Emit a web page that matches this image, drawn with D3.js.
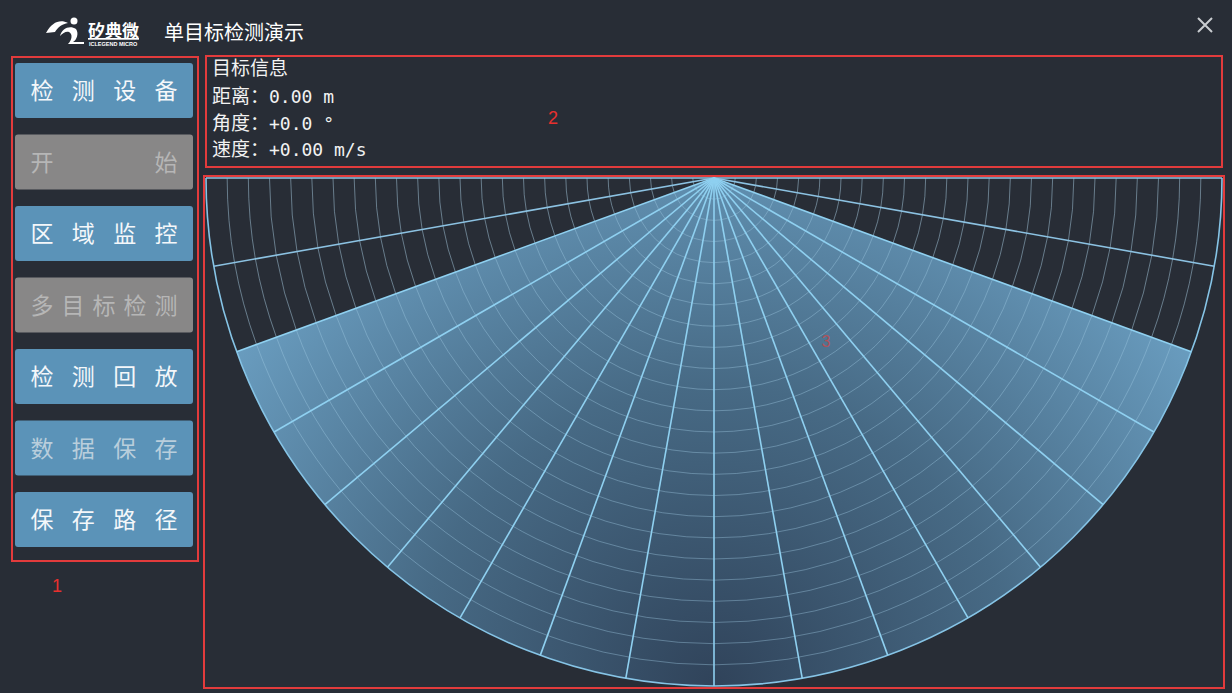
<!DOCTYPE html>
<html><head><meta charset="utf-8">
<script src="https://cdn.jsdelivr.net/npm/d3@7/dist/d3.min.js"></script>
<style>
html,body{margin:0;padding:0;background:#282d36;overflow:hidden;}
svg{display:block;}
</style></head>
<body>
<svg id="c" width="1232" height="693"></svg>
<script>
// ---- data ----
const titleText = "单目标检测演示";
const brandText = "矽典微";
const brandSub = "ICLEGEND MICRO";
const buttonLabels = ["检测设备", "开始", "区域监控", "多目标检测", "检测回放", "数据保存", "保存路径"];
const buttonStates = ["active", "disabled", "active", "disabled", "active", "dim", "active"];
const infoTitle = "目标信息";
const infoLabels = ["距离：", "角度：", "速度："];
const infoValues = ["0.00 m", "+0.0 °", "+0.00 m/s"];
const regionLabels = ["1", "2", "3"];
const radarRings = d3.range(1, 25);            // 24 range rings
const sectorAngles = d3.range(-70, 71, 10);     // radial lines inside detection sector (deg from boresight)
const outerAngles = [-90, -80, 80, 90];         // radial lines outside the sector
const sectorHalf = 70;
const fieldHalf = 90;

// ---- layout ----
const svg = d3.select("#c");
const W = 1232, H = 693;
svg.append("rect").attr("width", W).attr("height", H).attr("fill", "#282d36");

const defs = svg.append("defs");

// ---- title bar ----
const logo = svg.append("g");
logo.append("path")
  .attr("d", "M46,33 C52,22 60,19 68,23 C62,24 58,27 55,32 Z")
  .attr("fill", "#ffffff");
logo.append("path")
  .attr("d", "M60,36 C62,28 70,25 76,29 C79,33 77,40 73,42 L84,42 L84,44 L68,44 C72,40 73,34 69,32 C66,31 63,33 60,36 Z")
  .attr("fill", "#ffffff");
logo.append("circle").attr("cx", 74).attr("cy", 21).attr("r", 3.5).attr("fill", "#ffffff");
logo.append("text").attr("x", 88).attr("y", 37)
  .attr("font-family", "Noto Sans CJK SC").attr("font-size", 17).attr("font-weight", 700)
  .attr("fill", "#ffffff").attr("text-decoration", "underline").text(brandText);
logo.append("text").attr("x", 89).attr("y", 45.5)
  .attr("font-family", "Liberation Sans").attr("font-size", 5.5).attr("font-weight", 700)
  .attr("fill", "#ffffff").text(brandSub);
svg.append("text").attr("x", 164).attr("y", 40)
  .attr("font-family", "Noto Sans CJK SC").attr("font-size", 20)
  .attr("fill", "#ffffff").text(titleText);
// close X
svg.append("path").attr("d", "M1198,18 L1212,32 M1212,18 L1198,32")
  .attr("stroke", "#c9ccd0").attr("stroke-width", 2).attr("fill", "none");

// ---- left button panel ----
const red = "#e23b3c";
svg.append("rect").attr("x", 12).attr("y", 57).attr("width", 186).attr("height", 504)
  .attr("fill", "none").attr("stroke", red).attr("stroke-width", 2);

const btnY = d3.scaleLinear().domain([0, buttonLabels.length - 1]).range([63, 492]);
const btnFill = {active: "#5b93b8", dim: "#5b93b8", disabled: "#888787"};
const btnText = {active: "#f4f7fa", dim: "#b9cedc", disabled: "#b6b6b6"};
const btns = svg.append("g").selectAll("g").data(buttonLabels).join("g")
  .attr("transform", (d, i) => `translate(15,${btnY(i)})`);
btns.append("rect").attr("width", 178).attr("height", 55).attr("rx", 3)
  .attr("fill", (d, i) => btnFill[buttonStates[i]]);
btns.each(function(d, i) {
  const chars = Array.from(d);
  const x = d3.scaleLinear().domain([0, Math.max(1, chars.length - 1)]).range([27, 151]);
  d3.select(this).selectAll("text").data(chars).join("text")
    .attr("x", (c, j) => x(j)).attr("y", 36)
    .attr("text-anchor", "middle")
    .attr("font-family", "Noto Sans CJK SC").attr("font-size", 23)
    .attr("fill", btnText[buttonStates[i]]).text(c => c);
});

// ---- info panel ----
svg.append("rect").attr("x", 206).attr("y", 56).attr("width", 1016).attr("height", 111)
  .attr("fill", "none").attr("stroke", red).attr("stroke-width", 2);
svg.append("text").attr("x", 212).attr("y", 75)
  .attr("font-family", "Noto Sans CJK SC").attr("font-size", 19)
  .attr("fill", "#f2f2f2").text(infoTitle);
const infoY = d3.scaleLinear().domain([0, 2]).range([103, 156]);
infoLabels.forEach((lab, i) => {
  const t = svg.append("text").attr("x", 212).attr("y", infoY(i))
    .attr("font-size", 19).attr("fill", "#f2f2f2");
  t.append("tspan").attr("font-family", "Noto Sans CJK SC").text(lab);
  t.append("tspan").attr("font-family", "DejaVu Sans Mono").attr("font-size", 18).text(infoValues[i]);
});

// ---- radar chart panel ----
svg.append("rect").attr("x", 204).attr("y", 176).attr("width", 1020).attr("height", 512)
  .attr("fill", "none").attr("stroke", red).attr("stroke-width", 2);

const cx = 714, cy = 178;
const rScale = d3.scaleLinear().domain([0, radarRings.length]).range([0, 508]);
const R = rScale(radarRings.length);
// angle: degrees from boresight (straight down) -> d3.arc angle (radians, 0 = up, clockwise)
const aScale = d3.scaleLinear().domain([-90, 90]).range([Math.PI * 1.5, Math.PI * 0.5]);

const grad = defs.append("radialGradient").attr("id", "sectorGrad")
  .attr("gradientUnits", "userSpaceOnUse")
  .attr("cx", 0).attr("cy", R).attr("r", 600).attr("fx", 0).attr("fy", R);
grad.append("stop").attr("offset", 0).attr("stop-color", "#30435a");
grad.append("stop").attr("offset", 0.5).attr("stop-color", "#476a85");
grad.append("stop").attr("offset", 1).attr("stop-color", "#6b9fc2");

const radar = svg.append("g").attr("transform", `translate(${cx},${cy})`);

// detection sector fill
radar.append("path")
  .attr("d", d3.arc().innerRadius(0).outerRadius(R)
    .startAngle(aScale(sectorHalf)).endAngle(aScale(-sectorHalf))())
  .attr("fill", "url(#sectorGrad)");

function ringPath(r, d0, d1) {
  const p = d3.path();
  const s = aScale(d0) - Math.PI / 2, e = aScale(d1) - Math.PI / 2;
  p.arc(0, 0, r, s, e, s > e);
  return p.toString();
}

// rings outside sector (dark area)
const ringsG = radar.append("g").attr("fill", "none");
[[-fieldHalf, -sectorHalf], [sectorHalf, fieldHalf]].forEach(([d0, d1]) => {
  ringsG.selectAll(null).data(radarRings.slice(0, -1)).join("path")
    .attr("d", k => ringPath(rScale(k), d0, d1))
    .attr("stroke", "#9cbdd2").attr("stroke-opacity", 0.55).attr("stroke-width", 1);
});
// rings inside sector
ringsG.selectAll(null).data(radarRings.slice(0, -1)).join("path")
  .attr("d", k => ringPath(rScale(k), -sectorHalf, sectorHalf))
  .attr("stroke", "#9fcbe4").attr("stroke-opacity", 0.4).attr("stroke-width", 1);
// outer boundary
ringsG.append("path").attr("d", ringPath(R, -fieldHalf, fieldHalf))
  .attr("stroke", "#86c4e6").attr("stroke-width", 1.6);

// radial lines
const pt = (d, r) => [r * Math.sin(aScale(d)), -r * Math.cos(aScale(d))];
radar.append("g").selectAll("line").data(outerAngles).join("line")
  .attr("x1", 0).attr("y1", 0)
  .attr("x2", d => pt(d, R)[0]).attr("y2", d => pt(d, R)[1])
  .attr("stroke", "#8cc2e2").attr("stroke-width", 1.6);
radar.append("g").selectAll("line").data(sectorAngles).join("line")
  .attr("x1", 0).attr("y1", 0)
  .attr("x2", d => pt(d, R)[0]).attr("y2", d => pt(d, R)[1])
  .attr("stroke", "#8fd0f0").attr("stroke-width", 1.6);

// ---- region markers ----
svg.append("text").attr("x", 57).attr("y", 592).attr("text-anchor", "middle")
  .attr("font-family", "Liberation Sans").attr("font-size", 18).attr("fill", "#e8302e").text(regionLabels[0]);
svg.append("text").attr("x", 553).attr("y", 124).attr("text-anchor", "middle")
  .attr("font-family", "Liberation Sans").attr("font-size", 18).attr("fill", "#e8302e").text(regionLabels[1]);
svg.append("text").attr("x", 826).attr("y", 347).attr("text-anchor", "middle")
  .attr("font-family", "Liberation Sans").attr("font-size", 16).attr("fill", "#c8484c").attr("fill-opacity", 0.8).text(regionLabels[2]);
</script>
</body></html>
